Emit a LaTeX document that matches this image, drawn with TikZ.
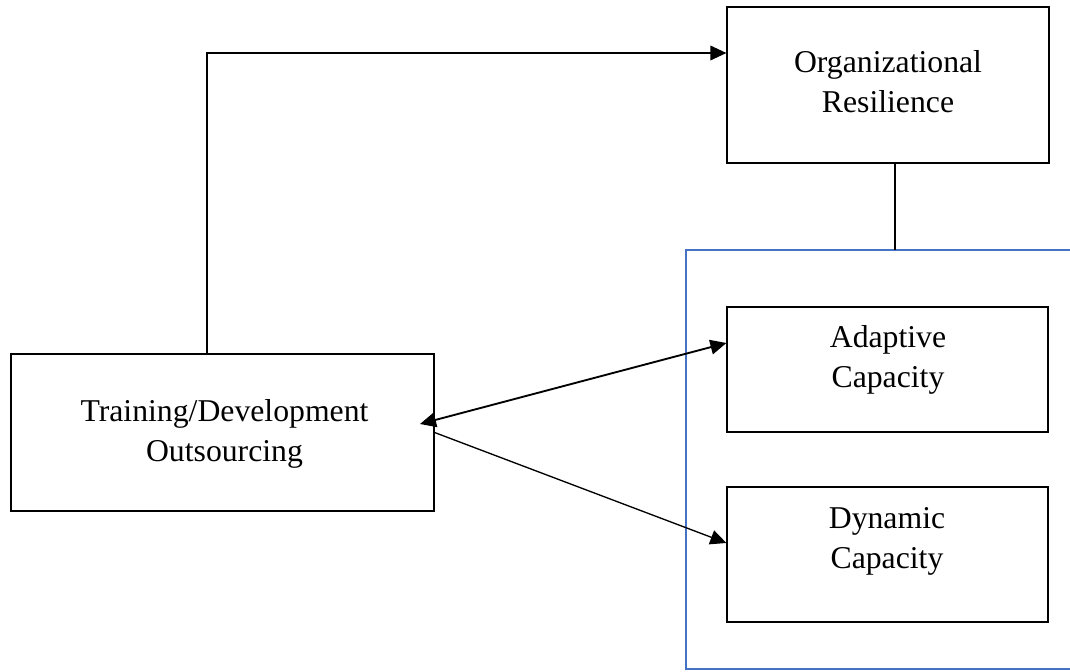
\documentclass[tikz,border=0pt]{standalone}
\usepackage{fontspec}
\setmainfont{Liberation Serif}
\usetikzlibrary{arrows.meta,calc}
\definecolor{bluefr}{RGB}{68,114,196}
\tikzset{
  box/.style={draw=black,line width=0.9pt,rectangle,inner sep=0pt},
  lbl/.style={align=center,inner sep=0pt,font=\fontsize{23.8}{30}\selectfont,anchor=base},
  tip/.style={-{Triangle[length=12pt,width=11pt]}},
  conn/.style={line width=1pt},
}
\begin{document}
\begin{tikzpicture}[x=0.75pt,y=-0.75pt]
\useasboundingbox (0,0) rectangle (1070,671);
% boxes
\node[box,minimum width=322*0.75pt,minimum height=156*0.75pt] (org) at (888,85) {};
\node[box,minimum width=423*0.75pt,minimum height=157*0.75pt] (tr) at (222.5,432.5) {};
\node[box,minimum width=321*0.75pt,minimum height=125*0.75pt] (ada) at (887.5,369.5) {};
\node[box,minimum width=321*0.75pt,minimum height=135*0.75pt] (dyn) at (887.5,554.5) {};
% labels (base = baseline of last line)
\node[lbl] (orgt) at (888,112) {Organizational\\Resilience};
\node[lbl] (trt) at (224.5,461) {Training/Development\\Outsourcing};
\node[lbl] (adat) at (888,387) {Adaptive\\Capacity};
\node[lbl] (dynt) at (887,568) {Dynamic\\Capacity};
% blue frame
\coordinate (bt) at (895,250);
\coordinate (btl) at (686,250);
\coordinate (btr) at (1070,250);
\coordinate (bbl) at (686,669);
\coordinate (bbr) at (1070,669);
\draw[bluefr,line width=1.3pt] (btr) -- (btl) -- (bbl) -- (bbr);
\draw[conn] (org.south -| bt) -- (bt);
% connectors
\coordinate (c1) at (207,53);
\draw[conn,tip] (tr.north -| c1) -- (c1) -- (c1 -| org.west);
\coordinate (dl) at (420,424);
\coordinate (dr) at (727,343);
\draw[line width=1.4pt,{Triangle[length=12pt,width=11pt]}-{Triangle[length=12pt,width=11pt]}] (dl) -- (dr -| ada.west);
\coordinate (de) at (727,543);
\draw[conn,tip] (tr.east) -- (de -| dyn.west);
\end{tikzpicture}
\end{document}
